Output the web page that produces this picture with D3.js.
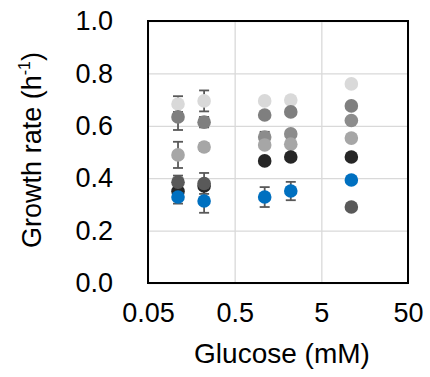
<!DOCTYPE html>
<html>
<head>
<meta charset="utf-8">
<script src="https://cdn.jsdelivr.net/npm/d3@7"></script>
<style>
  body { margin: 0; background: #fff; }
  text { font-family: "Liberation Sans", Arial, sans-serif; fill: #000; }
</style>
</head>
<body>
<div id="graph"></div>
<script>
// glucose concentrations (mM)
const glucose = [0.111, 0.222, 1.11, 2.22, 11.1]

// growth rates per strain (h-1), null = no point
const rateLight = [0.683, 0.695, 0.695, 0.698, 0.76]
const errLight = [0.03, 0.04, 0, 0, 0]
const rateGray = [0.634, 0.614, 0.641, 0.653, 0.676]
const errGray = [0.05, 0.02, 0, 0, 0]
const rateMidDark = [null, null, 0.557, 0.569, 0.62]
const errMidDark = [0, 0, 0.02, 0, 0]
const rateMid = [0.489, 0.519, 0.527, 0.53, 0.553]
const errMid = [0.05, 0.015, 0, 0, 0]
const rateBlack = [0.35, 0.37, 0.466, 0.481, 0.481]
const errBlack = [0, 0, 0, 0, 0]
const rateDark = [0.385, 0.38, null, null, 0.29]
const errDark = [0.025, 0.04, 0, 0, 0]
const rateBlue = [0.328, 0.313, 0.328, 0.351, 0.393]
const errBlue = [0.025, 0.045, 0.038, 0.035, 0]

const xTicks = [0.05, 0.5, 5, 50]
const yTicks = [0, 0.2, 0.4, 0.6, 0.8, 1.0]

const series = [
  {rates: rateLight, errs: errLight, color: '#d9d9d9'},
  {rates: rateGray, errs: errGray, color: '#7f7f7f'},
  {rates: rateMidDark, errs: errMidDark, color: '#8c8c8c'},
  {rates: rateMid, errs: errMid, color: '#a6a6a6'},
  {rates: rateBlack, errs: errBlack, color: '#262626'},
  {rates: rateDark, errs: errDark, color: '#595959'},
  {rates: rateBlue, errs: errBlue, color: '#0070c0'}
]

const margin = {top: 21, right: 22, bottom: 94, left: 148}
const W = 430, H = 377
const width = W - margin.left - margin.right
const height = H - margin.top - margin.bottom

const svg = d3.select('#graph')
  .append('svg')
  .attr('width', W)
  .attr('height', H)
  .append('g')
  .attr('transform', `translate(${margin.left},${margin.top})`)

// scales
const x = d3.scaleLog()
  .domain([0.05, 50])
  .range([0, width])

const y = d3.scaleLinear()
  .domain([0, 1])
  .range([height, 0])

// grid
svg.append('g')
  .call(d3.axisLeft(y).tickValues(yTicks).tickSize(-width).tickFormat(''))
  .call(g => g.select('.domain').remove())
  .call(g => g.selectAll('line').attr('stroke', '#d9d9d9').attr('stroke-width', 1.3))

svg.append('g')
  .call(d3.axisBottom(x).tickValues(xTicks).tickSize(height).tickFormat(''))
  .call(g => g.select('.domain').remove())
  .call(g => g.selectAll('line').attr('stroke', '#d9d9d9').attr('stroke-width', 1.3))

// frame
svg.append('rect')
  .attr('width', width)
  .attr('height', height)
  .attr('fill', 'none')
  .attr('stroke', '#000')
  .attr('stroke-width', 2)

// tick labels
svg.append('g')
  .call(d3.axisLeft(y).tickValues(yTicks).tickSize(0).tickPadding(35).tickFormat(d3.format('.1f')))
  .call(g => g.select('.domain').remove())
  .call(g => g.selectAll('text').style('font-size', '27px').attr('font-family', null))

svg.append('g')
  .attr('transform', `translate(0,${height})`)
  .call(d3.axisBottom(x).tickValues(xTicks).tickSize(0).tickPadding(20).tickFormat(d => String(d)))
  .call(g => g.select('.domain').remove())
  .call(g => g.selectAll('text').style('font-size', '27px').attr('font-family', null))

// error bars
const points = []
series.forEach(s => {
  s.rates.forEach((r, i) => {
    if (r !== null) points.push({x: glucose[i], y: r, e: s.errs[i], color: s.color})
  })
})

const bars = svg.append('g')
points.filter(p => p.e > 0).forEach(p => {
  const cx = x(p.x)
  bars.append('line')
    .attr('x1', cx).attr('x2', cx)
    .attr('y1', y(p.y - p.e)).attr('y2', y(p.y + p.e))
  ;[p.y - p.e, p.y + p.e].forEach(v => {
    bars.append('line')
      .attr('x1', cx - 5).attr('x2', cx + 5)
      .attr('y1', y(v)).attr('y2', y(v))
  })
})
bars.selectAll('line').attr('stroke', '#595959').attr('stroke-width', 1.8)

// markers
svg.append('g')
  .selectAll('circle')
  .data(points)
  .join('circle')
  .attr('cx', d => x(d.x))
  .attr('cy', d => y(d.y))
  .attr('r', 6.8)
  .attr('fill', d => d.color)

// axis titles
svg.append('text')
  .attr('x', width / 2 + 4)
  .attr('y', height + 80)
  .style('text-anchor', 'middle')
  .style('font-size', '28px')
  .text('Glucose (mM)')

const yl = svg.append('text')
  .attr('transform', `translate(${41 - margin.left},${150 - margin.top}) rotate(-90)`)
  .style('text-anchor', 'middle')
  .style('font-size', '27px')
yl.append('tspan').text('Growth rate (h')
yl.append('tspan').attr('dy', -11).style('font-size', '16px').text('-1')
yl.append('tspan').attr('dy', 11).text(')')
</script>
</body>
</html>
